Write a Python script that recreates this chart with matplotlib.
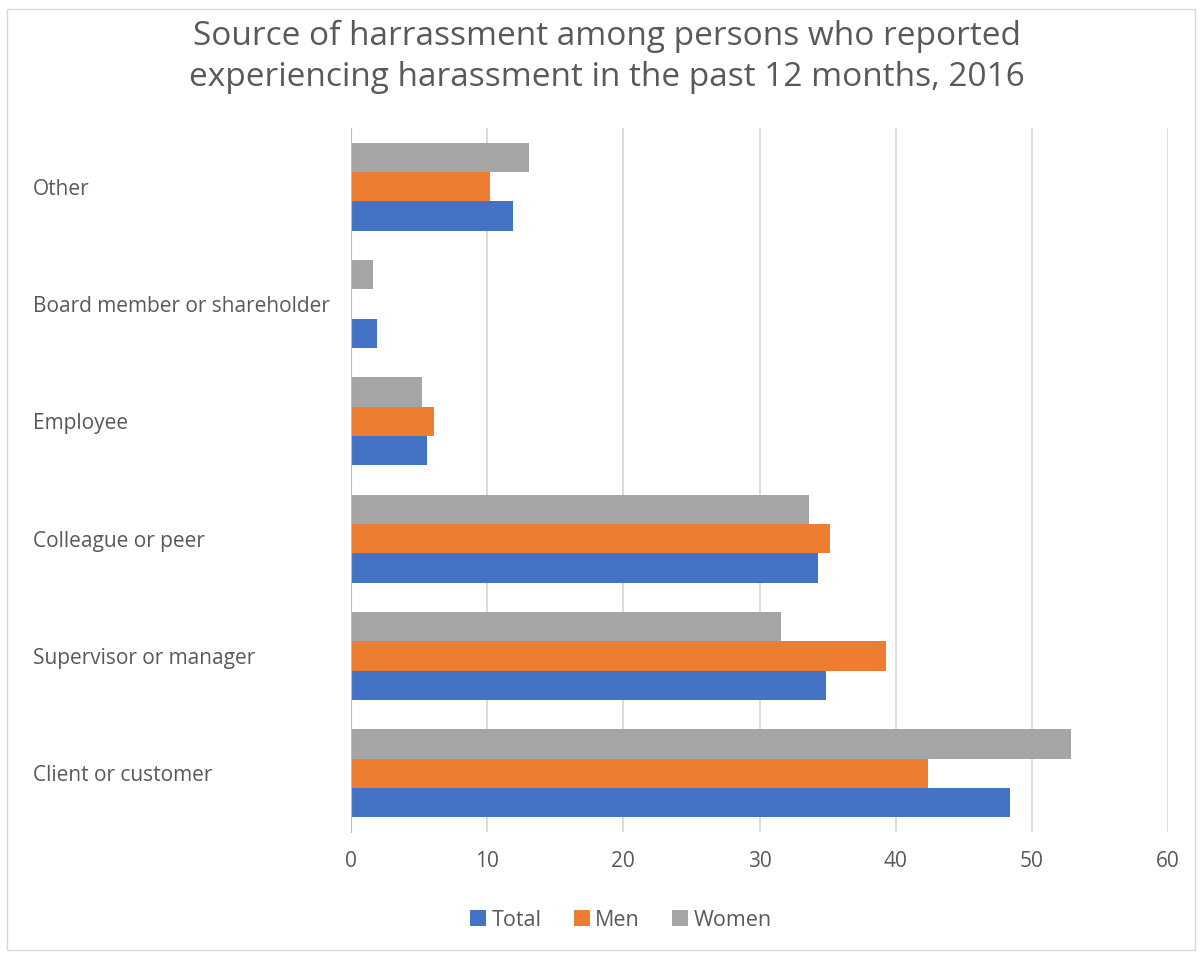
import numpy as np
import matplotlib
matplotlib.use("Agg")
import matplotlib.pyplot as plt
from matplotlib.patches import Rectangle

plt.rcParams['font.family'] = ['Open Sans', 'DejaVu Sans']

categories = ["Client or customer", "Supervisor or manager", "Colleague or peer",
              "Employee", "Board member or shareholder", "Other"]
total = [48.4, 34.9, 34.3, 5.6, 1.9, 11.9]
men = [42.4, 39.3, 35.2, 6.1, 0.0, 10.2]
women = [52.9, 31.6, 33.6, 5.2, 1.6, 13.1]
xticks = [0, 10, 20, 30, 40, 50, 60]

text_col = '#595959'
grid_col = '#D9D9D9'

fig = plt.figure(figsize=(12.01, 9.55), dpi=100)
ax = fig.add_axes([0.2923, 0.1288, 0.6802, 0.7372])

y = np.arange(len(categories))
h = 0.25
ax.barh(y - h, total, height=h, color='#4472C4', label='Total', zorder=3)
ax.barh(y, men, height=h, color='#ED7D31', label='Men', zorder=3)
ax.barh(y + h, women, height=h, color='#A5A5A5', label='Women', zorder=3)

ax.set_xlim(0, 60)
ax.set_ylim(-0.5, len(categories) - 0.5)
ax.set_xticks(xticks)
ax.set_xticklabels([str(t) for t in xticks])
ax.set_yticks(y)
ax.set_yticklabels(categories)

ax.grid(axis='x', color=grid_col, linewidth=1.3, zorder=0)
for s in ['top', 'right', 'bottom']:
    ax.spines[s].set_visible(False)
ax.spines['left'].set_color('#BFBFBF')
ax.spines['left'].set_zorder(4)

ax.tick_params(axis='x', length=0, pad=14, labelsize=15, colors=text_col)
ax.tick_params(axis='y', length=0, pad=229, labelsize=15, colors=text_col)
for lab in ax.get_yticklabels():
    lab.set_horizontalalignment('left')

fig.text(0.505, 1 - 57 / 955, "Source of harrassment among persons who reported\n"
         "experiencing harassment in the past 12 months, 2016",
         ha='center', va='center', fontsize=24, color=text_col, linespacing=1.3)

fig.legend(loc='center', bbox_to_anchor=(0.517, 1 - 920 / 955), ncol=3,
           frameon=False, fontsize=15.5, handlelength=0.75, handleheight=0.75,
           handletextpad=0.25, columnspacing=1.5, labelcolor=text_col)

fig.patches.append(Rectangle((7 / 1201, 1 - 950 / 955), 1188 / 1201, 941 / 955,
                             transform=fig.transFigure, fill=False,
                             edgecolor=grid_col, linewidth=1))

fig.savefig('out.png', dpi=100)
